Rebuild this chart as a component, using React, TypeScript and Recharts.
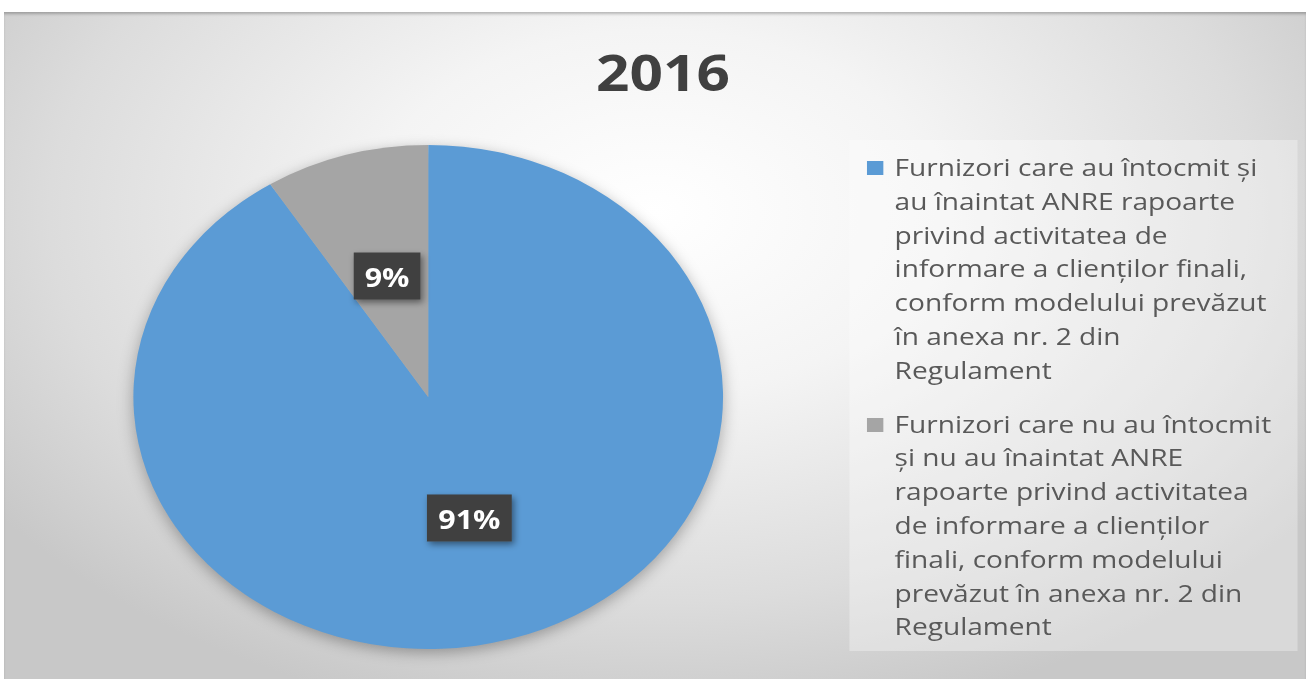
import React from "react";
import { PieChart, Pie, Cell, Legend, Sector } from "recharts";

const title = "2016";

const categories = [
  "Furnizori care au întocmit și au înaintat ANRE rapoarte privind activitatea de informare a clienților finali, conform modelului prevăzut în anexa nr. 2 din Regulament",
  "Furnizori care nu au întocmit și nu au înaintat ANRE rapoarte privind activitatea de informare a clienților finali, conform modelului prevăzut în anexa nr. 2 din Regulament",
];

const shares = [91, 9];

const colors = ["#5B9BD5", "#A5A5A5"];

// legend text, split the way the original wraps it
const legendLines = [
  [
    "Furnizori care au întocmit și",
    "au înaintat ANRE rapoarte",
    "privind activitatea de",
    "informare a clienților finali,",
    "conform modelului prevăzut",
    "în anexa nr. 2 din",
    "Regulament",
  ],
  [
    "Furnizori care nu au întocmit",
    "și nu au înaintat ANRE",
    "rapoarte privind activitatea",
    "de informare a clienților",
    "finali, conform modelului",
    "prevăzut în anexa nr. 2 din",
    "Regulament",
  ],
];

const data = categories.map((name, i) => ({ name, value: shares[i] }));

const FONT = "'Open Sans', sans-serif";
// the source picture is stretched horizontally
const SX = 1.17;
const W = 1312 / SX;
const H = 679;

const RAD = Math.PI / 180;

const renderLabel = (p: any) => {
  const { cx, cy, midAngle, outerRadius, percent } = p;
  const r = outerRadius * 0.5;
  const x = cx + r * Math.cos(-midAngle * RAD);
  const y = cy + r * Math.sin(-midAngle * RAD);
  const text = `${Math.round(percent * 100)}%`;
  const w = 26 + text.length * 15.5;
  const h = 47;
  return (
    <g>
      <rect
        x={x - w / 2}
        y={y - h / 2}
        width={w}
        height={h}
        fill="#404040"
        filter="url(#labelShadow)"
      />
      <text
        x={x}
        y={y + 1}
        fill="#ffffff"
        textAnchor="middle"
        dominantBaseline="central"
        fontFamily={FONT}
        fontWeight={700}
        fontSize={26}
      >
        {text}
      </text>
    </g>
  );
};

const renderLegend = (props: any) => {
  const payload: any[] = props.payload || [];
  // only the coloured pie goes in the legend, not its shadow copy
  const items = categories.map((c, i) => {
    const hit = payload.find((e) => e.value === c && e.type !== "none" && e.color === colors[i]);
    return { value: c, color: hit ? hit.color : colors[i] };
  });
  return (
    <div
      style={{
        width: "100%",
        height: "100%",
        boxSizing: "border-box",
        paddingTop: 10,
        background: "rgba(255,255,255,0.32)",
      }}
    >
      {items.map((entry, i) => (
        <div
          key={i}
          style={{
            position: "relative",
            paddingLeft: 39,
            marginBottom: 20,
            fontFamily: FONT,
            fontSize: 24,
            lineHeight: "33.8px",
            color: "#595959",
            textAlign: "left",
            whiteSpace: "nowrap",
          }}
        >
          <span
            style={{
              position: "absolute",
              left: 15,
              top: 11,
              width: 14.5,
              height: 14,
              background: entry.color,
            }}
          />
          {legendLines[i].map((l, j) => (
            <div key={j}>{l}</div>
          ))}
        </div>
      ))}
    </div>
  );
};

export default function App() {
  return (
    <div
      style={{
        position: "absolute",
        left: 0,
        top: 0,
        width: 1312,
        height: 679,
        background: "#ffffff",
        overflow: "hidden",
      }}
    >
      <svg width={0} height={0} style={{ position: "absolute" }}>
        <defs>
          <filter id="pieShadow" x="-20%" y="-20%" width="140%" height="140%">
            <feGaussianBlur stdDeviation={7} />
          </filter>
          <filter id="labelShadow" x="-30%" y="-30%" width="160%" height="160%">
            <feDropShadow dx={2} dy={3} stdDeviation={3} floodColor="#000" floodOpacity={0.45} />
          </filter>
        </defs>
      </svg>
      <div
        style={{
          position: "absolute",
          left: 4,
          top: 12,
          width: 1302,
          height: 667,
          background:
            "radial-gradient(ellipse 62% 78% at 50% 30%, #ffffff 0%, #f4f4f4 35%, #dcdcdc 75%, #c8c8c8 100%)",
          boxShadow: "inset 0 3px 3px -1px rgba(0,0,0,0.25)",
        }}
      />
      <div
        style={{
          position: "absolute",
          left: 0,
          top: 0,
          width: W,
          height: H,
          transform: `scaleX(${SX})`,
          transformOrigin: "0 0",
        }}
      >
        <div
          style={{
            position: "absolute",
            left: 566.7,
            top: 37.6,
            transform: "translateX(-50%)",
            fontFamily: FONT,
            fontWeight: 700,
            fontSize: 50,
            color: "#404040",
            whiteSpace: "nowrap",
          }}
        >
          {title}
        </div>
        <PieChart width={W} height={H} margin={{ top: 0, right: 0, bottom: 0, left: 0 }}>
          <Pie
            data={data}
            dataKey="value"
            nameKey="name"
            cx={366}
            cy={401}
            outerRadius={252}
            startAngle={90}
            endAngle={-270}
            isAnimationActive={false}
            legendType="none"
            stroke="none"
            shape={(props: any) => (
              <Sector {...props} fill="#000000" fillOpacity={0.3} filter="url(#pieShadow)" />
            )}
          />
          <Pie
            data={data}
            dataKey="value"
            nameKey="name"
            cx={366}
            cy={397}
            outerRadius={252}
            startAngle={90}
            endAngle={-270}
            isAnimationActive={false}
            stroke="none"
            label={renderLabel}
            labelLine={false}
          >
            {data.map((d, i) => (
              <Cell key={d.name} fill={colors[i]} />
            ))}
          </Pie>
          <Legend
            layout="vertical"
            align="right"
            verticalAlign="top"
            content={renderLegend}
            wrapperStyle={{ position: "absolute", left: 725.6, top: 140, width: 383, height: 511 }}
          />
        </PieChart>
      </div>
    </div>
  );
}
